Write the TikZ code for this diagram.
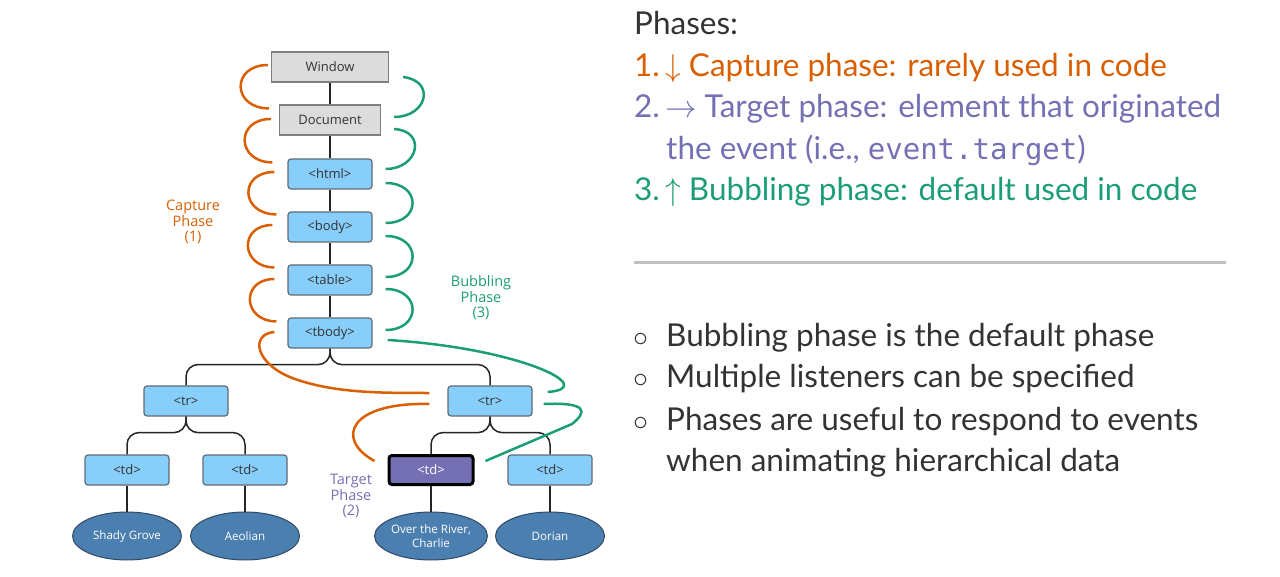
\RequirePackage{fix-cm}
\documentclass[tikz,border=0pt]{standalone}
\usepackage{fontspec}
\setmainfont{Lato}
\setmonofont{DejaVu Sans Mono}
\newfontfamily\diagfont{Open Sans}
\usetikzlibrary{calc,shapes.geometric}
\definecolor{capcol}{HTML}{D95F02}
\definecolor{tgtcol}{HTML}{7570B3}
\definecolor{bubcol}{HTML}{1B9E77}
\definecolor{txtcol}{HTML}{333333}
\definecolor{grayfill}{HTML}{DCDCDC}
\definecolor{grayedge}{HTML}{7F7F7F}
\definecolor{bluefill}{HTML}{87CEFA}
\definecolor{blueedge}{HTML}{5F6B75}
\definecolor{leaffill}{HTML}{4A7FB0}
\definecolor{leafedge}{HTML}{2F4A66}
\definecolor{rulecol}{HTML}{C0C0C0}
\begin{document}
\begin{tikzpicture}[x=1pt,y=-1pt,
  boxfont/.style={font=\diagfont\fontsize{13}{15}\selectfont},
  graybox/.style={boxfont, draw=grayedge, fill=grayfill, line width=1.2pt, minimum height=30pt, inner sep=0pt, text=txtcol},
  bluebox/.style={boxfont, draw=blueedge, fill=bluefill, line width=1.2pt, rounded corners=3pt, minimum width=84pt, minimum height=30pt, inner sep=0pt, text=txtcol},
  tgtbox/.style={boxfont, draw=black, fill=tgtcol, line width=3pt, rounded corners=3pt, minimum width=84pt, minimum height=29pt, inner sep=0pt, text=white},
  leaf/.style={ellipse, draw=leafedge, fill=leaffill, line width=1pt, minimum width=109pt, minimum height=48pt, inner sep=0pt, text=white, align=center, font=\diagfont\fontsize{11.6}{13.5}\selectfont},
  conn/.style={draw=black!85, line width=1.5pt},
  branch/.style={conn, rounded corners=12pt},
  capline/.style={draw=capcol, line width=2.5pt},
  bubline/.style={draw=bubcol, line width=2.5pt},
  phlabel/.style={align=center, font=\diagfont\fontsize{14.5}{15.5}\selectfont},
  bigtext/.style={anchor=base west, inner sep=0pt, font=\fontsize{31.5}{38}\selectfont},
  bullet/.style={anchor=base, inner sep=0pt, text=txtcol, font=\fontsize{30}{34}\selectfont}
]
\useasboundingbox (0,0) rectangle (1280,577);

% ---- tree nodes
\node[graybox, minimum width=117pt] (win) at (330,67) {Window};
\node[graybox, minimum width=101pt] (doc) at (330,120) {Document};
\node[bluebox] (html) at (330,174) {<html>};
\node[bluebox] (body) at (330,227) {<body>};
\node[bluebox] (table) at (330,280) {<table>};
\node[bluebox] (tbody) at (330,333) {<tbody>};
\node[bluebox] (trL) at (186,401) {<tr>};
\node[bluebox] (trR) at (490,401) {<tr>};
\node[bluebox] (tdA) at (127,470) {<td>};
\node[bluebox] (tdB) at (245,470) {<td>};
\node[tgtbox] (tdC) at (431,470) {<td>};
\node[bluebox] (tdD) at (550,470) {<td>};
\node[leaf] (lfA) at (127,536) {Shady Grove};
\node[leaf] (lfB) at (245,536) {Aeolian};
\node[leaf] (lfC) at (431,536) {Over the River,\\Charlie};
\node[leaf] (lfD) at (550,536) {Dorian};

% ---- connectors
\draw[conn] (win.south) -- (doc.north);
\draw[conn] (doc.south) -- (html.north);
\draw[conn] (html.south) -- (body.north);
\draw[conn] (body.south) -- (table.north);
\draw[conn] (table.south) -- (tbody.north);
\draw[branch] (tbody.south) -- ++(0,16) -| (trL.north);
\draw[branch] (tbody.south) -- ++(0,16) -| (trR.north);
\draw[branch] (trL.south) -- ++(0,16) -| (tdA.north);
\draw[branch] (trL.south) -- ++(0,16) -| (tdB.north);
\draw[branch] (trR.south) -- ++(0,16) -| (tdC.north);
\draw[branch] (trR.south) -- ++(0,16) -| (tdD.north);
\draw[conn] (tdA.south) -- (lfA.north);
\draw[conn] (tdB.south) -- (lfB.north);
\draw[conn] (tdC.south) -- (lfC.north);
\draw[conn] (tdD.south) -- (lfD.north);

% ---- capture phase curves
\draw[capline] ($(win.west)+(-3,-2)$) .. controls +(-37,0) and +(-37,0) .. ($(doc.north west)+(-10,4)$);
\draw[capline] ($(doc.west)+(-8,-1)$) .. controls +(-36,0) and +(-36,0) .. ($(html.north west)+(-15,4)$);
\draw[capline] ($(html.west)+(-13,-2)$) .. controls +(-36,0) and +(-36,0) .. ($(body.north west)+(-11,3)$);
\draw[capline] ($(body.west)+(-15,-2)$) .. controls +(-34,0) and +(-34,0) .. ($(table.north west)+(-13,3)$);
\draw[capline] ($(table.west)+(-13,-1)$) .. controls +(-34,0) and +(-34,0) .. ($(tbody.north west)+(-11,4)$);
\draw[capline] ($(tbody.west)+(-13,-1)$) .. controls +(-25,2) and +(-40,-14) .. (295,379) .. controls +(40,14) and +(-50,0) .. ($(trR.west)+(-18,-8)$);
\draw[capline] ($(trR.west)+(-18,3)$) .. controls +(-80,-2) and +(-40,-22) .. ($(tdC.north west)+(-13,7)$);

% ---- bubbling phase curves
\draw[bubline] ($(win.east)+(14,10)$) .. controls +(33,4) and +(33,0) .. ($(doc.east)+(13,-3)$);
\draw[bubline] ($(doc.east)+(13,9)$) .. controls +(33,2) and +(33,0) .. ($(html.east)+(13,-5)$);
\draw[bubline] ($(html.east)+(13,9)$) .. controls +(36,0) and +(36,0) .. ($(body.east)+(13,-4)$);
\draw[bubline] ($(body.east)+(13,9)$) .. controls +(36,0) and +(36,0) .. ($(table.east)+(13,-3)$);
\draw[bubline] ($(table.east)+(13,9)$) .. controls +(36,0) and +(36,0) .. ($(tbody.east)+(13,-3)$);
\draw[bubline] ($(tbody.east)+(15,7)$) .. controls +(133,8) and +(53,-4) .. ($(trR.east)+(15,-9)$);
\draw[bubline] ($(trR.east)+(11,3)$) .. controls +(45,-2) and +(15,-12) .. (572,424) -- ($(tdC.north east)+(11,7)$);

% ---- phase labels
\node[phlabel, text=capcol] (caplab) at (193,222) {Capture\\Phase\\(1)};
\node[phlabel, text=bubcol] (bublab) at (481,298) {Bubbling\\Phase\\(3)};
\node[phlabel, text=tgtcol] (tgtlab) at (351,496) {Target\\Phase\\(2)};

% ---- right-hand text
\node[bigtext, text=txtcol] (t0) at (634,35) {Phases:};
\node[bigtext, text=capcol] (t1) at (634,77) {1.\,$\downarrow$ Capture phase: rarely used in code};
\node[bigtext, text=tgtcol] (t2) at (634,118) {2.\,$\rightarrow$ Target phase: element that originated};
\node[bigtext, text=tgtcol] (t3) at (666,160) {the event (i.e., {\ttfamily\fontsize{29}{34}\selectfont event.target})};
\node[bigtext, text=bubcol] (t4) at (634,201) {3.\,$\uparrow$ Bubbling phase: default used in code};

\coordinate (ruleL) at (634,263);
\coordinate (ruleR) at (1226,263);
\draw[draw=rulecol, line width=3pt] (ruleL) -- (ruleR);

\node[bullet] (b1) at (641,346) {$\circ$};
\node[bullet] (b2) at (641,388) {$\circ$};
\node[bullet] (b3) at (641,430) {$\circ$};
\node[bigtext, text=txtcol] (s1) at (666,346) {Bubbling phase is the default phase};
\node[bigtext, text=txtcol] (s2) at (666,388) {Multiple listeners can be specified};
\node[bigtext, text=txtcol] (s3) at (666,430) {Phases are useful to respond to events};
\node[bigtext, text=txtcol] (s4) at (666,471) {when animating hierarchical data};
\end{tikzpicture}
\end{document}
